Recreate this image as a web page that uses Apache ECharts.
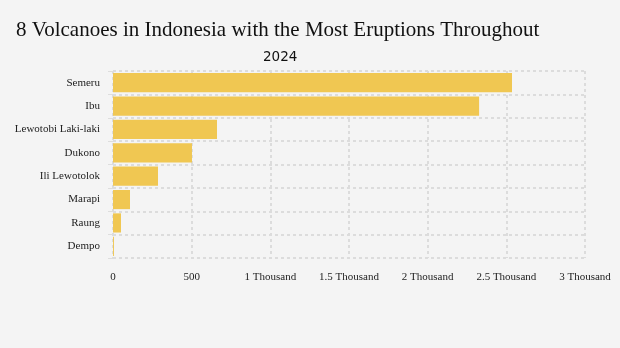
<!DOCTYPE html>
<html><head><meta charset="utf-8">
<script src="https://cdn.jsdelivr.net/npm/echarts@6/dist/echarts.min.js"></script>
<style>html,body{margin:0;padding:0;background:#f4f4f4}#c{width:620px;height:348px}</style>
</head><body><div id="c"></div>
<script>
const categories = ["Semeru","Ibu","Lewotobi Laki-laki","Dukono","Ili Lewotolok","Marapi","Raung","Dempo"];
const eruptions = [2536, 2327, 661, 502, 286, 108, 51, 6];
const tickLabels = {0:"0",500:"500",1000:"1 Thousand",1500:"1.5 Thousand",2000:"2 Thousand",2500:"2.5 Thousand",3000:"3 Thousand"};

const chart = echarts.init(document.getElementById('c'), null, {renderer:'canvas'});
chart.setOption({
  backgroundColor:'#f4f4f4',
  animation:false,
  title:[{
    text:'8 Volcanoes in Indonesia with the Most Eruptions Throughout',
    left:11, top:15,
    textStyle:{fontFamily:'Liberation Serif', fontWeight:'normal', fontSize:21, color:'#111'}
  },{
    text:'2024', left:258, top:45,
    textStyle:{fontFamily:'DejaVu Sans', fontWeight:'normal', fontSize:13.5, color:'#111'}
  }],
  grid:{left:113, right:35, top:71, bottom:90, containLabel:false},
  xAxis:{
    type:'value', min:0, max:3000, interval:500,
    axisLine:{show:false}, axisTick:{show:false},
    axisLabel:{margin:14, fontFamily:'Liberation Serif', fontSize:11, color:'#222',
      formatter:v=>tickLabels[v]},
    splitLine:{lineStyle:{type:[3,3], color:'#dcdcdc', width:2}}
  },
  yAxis:{
    type:'category', data:categories, inverse:true,
    axisLine:{show:false},
    axisTick:{show:true, length:5, lineStyle:{color:'#ddd'}},
    axisLabel:{margin:13, fontFamily:'Liberation Serif', fontSize:11, color:'#222'},
    splitLine:{show:true, lineStyle:{type:[3,3], color:'#dcdcdc', width:2}}
  },
  series:[{
    type:'bar', data:eruptions, barCategoryGap:'18%',
    itemStyle:{color:'#f0c752'}
  }]
});
</script></body></html>
